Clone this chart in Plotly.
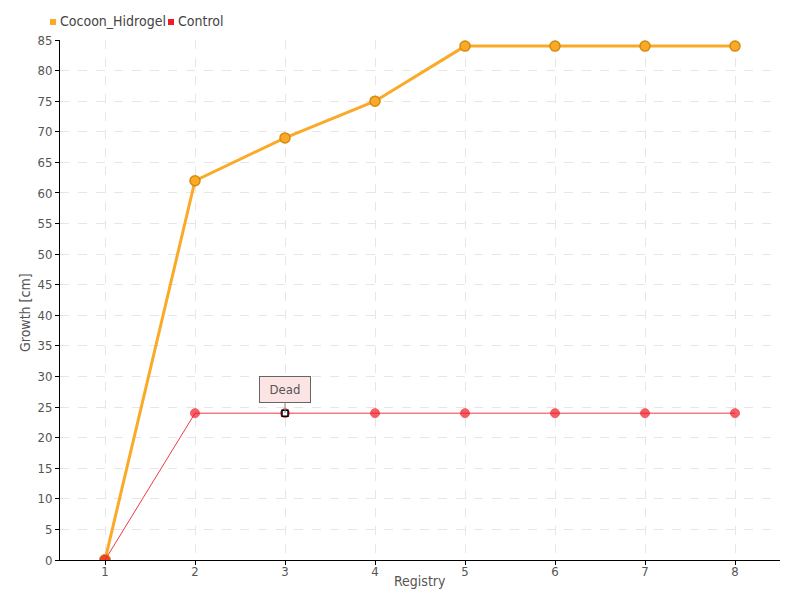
import plotly.graph_objects as go

registry = [1, 2, 3, 4, 5, 6, 7, 8]
cocoon_hidrogel = [0, 62, 69, 75, 84, 84, 84, 84]
control = [0, 24, 24, 24, 24, 24, 24, 24]
y_ticks = list(range(0, 90, 5))
series_names = ["Cocoon_Hidrogel", "Control"]

FONT = "Liberation Sans Narrow, DejaVu Sans Condensed, Arial Narrow, sans-serif"
ORANGE = "#FBAA28"
RED = "#EE1C25"

# page has an 8px body margin; plot area target in page px: x 60..780, y 40..560
PL, PT, PW, PH = 52, 32, 720, 520

fig = go.Figure()
fig.add_trace(go.Scatter(
    x=registry, y=cocoon_hidrogel, name=series_names[0], mode="lines+markers",
    line=dict(color=ORANGE, width=3),
    marker=dict(color=ORANGE, size=10, line=dict(color="#D48A10", width=1.5)),
))
fig.add_trace(go.Scatter(
    x=registry, y=control, name=series_names[1], mode="lines+markers",
    line=dict(color="#F03A45", width=1),
    marker=dict(color=RED, size=[11] + [9] * 7, symbol="circle",
                line=dict(color=["#D08020"] + [RED] * 7, width=1)),
))
fig.add_trace(go.Scatter(
    x=[registry[2]], y=[control[2]], mode="markers", showlegend=False, hoverinfo="skip",
    marker=dict(color="white", size=6, symbol="square", line=dict(color="black", width=1.5)),
))

fig.add_annotation(
    x=registry[2], y=control[2], text="Dead", showarrow=True, arrowhead=0,
    arrowcolor="#888888", arrowwidth=1, ax=0, ay=-10, yanchor="bottom",
    bgcolor="#FDE4E4", bordercolor="#666666", borderwidth=1, borderpad=5,
    width=40, font=dict(family=FONT, size=13, color="#555555"),
)

def px_x(page_x):
    return (page_x - 60) / PW

def px_y(page_y):
    return (560 - page_y) / PH

# manual legend (top-left)
legend_colors = [ORANGE, RED]
legend_x = [50, 168]
for name, col, lx in zip(series_names, legend_colors, legend_x):
    fig.add_shape(type="rect", xref="paper", yref="paper",
                  x0=px_x(lx), x1=px_x(lx + 6), y0=px_y(25), y1=px_y(19),
                  fillcolor=col, line=dict(width=0))
    fig.add_annotation(xref="paper", yref="paper", x=px_x(lx + 8), y=px_y(21),
                       text=name, showarrow=False, xanchor="left", yanchor="middle",
                       font=dict(family=FONT, size=14, color="#444444"))

# axis titles
fig.add_annotation(xref="paper", yref="paper", x=0.5, y=px_y(581), text="Registry",
                   showarrow=False, xanchor="center", yanchor="middle",
                   font=dict(family=FONT, size=14, color="#555555"))
fig.add_annotation(xref="paper", yref="paper", x=px_x(25), y=px_y(313), text="Growth [cm]",
                   showarrow=False, textangle=-90, xanchor="center", yanchor="middle",
                   font=dict(family=FONT, size=14, color="#555555"))

fig.update_layout(
    width=800, height=600,
    margin=dict(l=PL, r=800 - PL - PW, t=PT, b=600 - PT - PH),
    plot_bgcolor="white", paper_bgcolor="white",
    font=dict(family=FONT, size=13, color="#555555"),
    showlegend=False,
    xaxis=dict(
        range=[0.5, 8.5], tickmode="array", tickvals=registry,
        showline=True, linecolor="black", linewidth=1,
        ticks="outside", ticklen=4, tickcolor="black", ticklabelstandoff=-5,
        showgrid=True, gridcolor="#E6E6E6", griddash="dash", zeroline=False,
        tickfont=dict(size=13, color="#555555"), automargin=False,
    ),
    yaxis=dict(
        range=[0, 85], tickmode="array", tickvals=y_ticks,
        showline=True, linecolor="black", linewidth=1,
        ticks="outside", ticklen=4, tickcolor="black",
        showgrid=True, gridcolor="#E6E6E6", griddash="dash", zeroline=False,
        tickfont=dict(size=13, color="#555555"), automargin=False,
    ),
)

fig.write_html("out.html")
